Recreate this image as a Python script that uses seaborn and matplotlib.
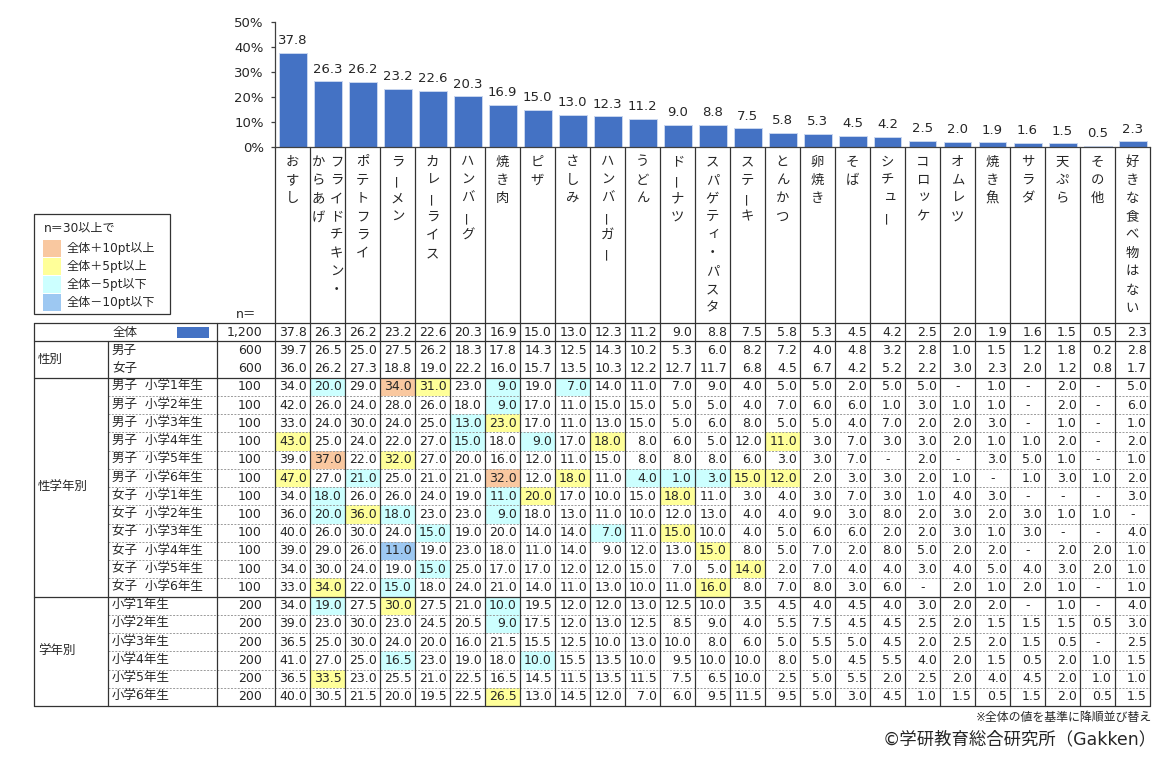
import numpy as np
import pandas as pd
import matplotlib
matplotlib.use('Agg')
import matplotlib.pyplot as plt
import seaborn as sns
from matplotlib.patches import Rectangle
from matplotlib.ticker import FuncFormatter

sns.set_theme(style='white')
plt.rcParams['font.family'] = ['DejaVu Sans', 'Noto Sans CJK JP']

# ---------------- data ----------------
header_lines = [
    ['おすし'], ['フライドチキン・', 'からあげ'], ['ポテトフライ'], ['ラーメン'],
    ['カレーライス'], ['ハンバーグ'], ['焼き肉'], ['ピザ'], ['さしみ'],
    ['ハンバーガー'], ['うどん'], ['ドーナツ'], ['スパゲティ・パスタ'],
    ['ステーキ'], ['とんかつ'], ['卵焼き'], ['そば'], ['シチュー'],
    ['コロッケ'], ['オムレツ'], ['焼き魚'], ['サラダ'], ['天ぷら'],
    ['その他'], ['好きな食べ物はない'],
]
foods = [''.join(l) for l in header_lines]

total_label = '全体'
total_n = '1,200'
total = [37.8, 26.3, 26.2, 23.2, 22.6, 20.3, 16.9, 15.0, 13.0, 12.3, 11.2, 9.0, 8.8,
         7.5, 5.8, 5.3, 4.5, 4.2, 2.5, 2.0, 1.9, 1.6, 1.5, 0.5, 2.3]

group_names = ['性別', '性学年別', '学年別']

gender_labels = ['男子', '女子']
gender_n = [600, 600]
gender_vals = [
    [39.7, 26.5, 25.0, 27.5, 26.2, 18.3, 17.8, 14.3, 12.5, 14.3, 10.2, 5.3, 6.0, 8.2, 7.2, 4.0, 4.8, 3.2, 2.8, 1.0, 1.5, 1.2, 1.8, 0.2, 2.8],
    [36.0, 26.2, 27.3, 18.8, 19.0, 22.2, 16.0, 15.7, 13.5, 10.3, 12.2, 12.7, 11.7, 6.8, 4.5, 6.7, 4.2, 5.2, 2.2, 3.0, 2.3, 2.0, 1.2, 0.8, 1.7],
]

sg_labels = ['男子  小学1年生', '男子  小学2年生', '男子  小学3年生', '男子  小学4年生',
             '男子  小学5年生', '男子  小学6年生', '女子  小学1年生', '女子  小学2年生',
             '女子  小学3年生', '女子  小学4年生', '女子  小学5年生', '女子  小学6年生']
sg_n = [100] * 12
sg_vals = [
    [34.0, 20.0, 29.0, 34.0, 31.0, 23.0, 9.0, 19.0, 7.0, 14.0, 11.0, 7.0, 9.0, 4.0, 5.0, 5.0, 2.0, 5.0, 5.0, None, 1.0, None, 2.0, None, 5.0],
    [42.0, 26.0, 24.0, 28.0, 26.0, 18.0, 9.0, 17.0, 11.0, 15.0, 15.0, 5.0, 5.0, 4.0, 7.0, 6.0, 6.0, 1.0, 3.0, 1.0, 1.0, None, 2.0, None, 6.0],
    [33.0, 24.0, 30.0, 24.0, 25.0, 13.0, 23.0, 17.0, 11.0, 13.0, 15.0, 5.0, 6.0, 8.0, 5.0, 5.0, 4.0, 7.0, 2.0, 2.0, 3.0, None, 1.0, None, 1.0],
    [43.0, 25.0, 24.0, 22.0, 27.0, 15.0, 18.0, 9.0, 17.0, 18.0, 8.0, 6.0, 5.0, 12.0, 11.0, 3.0, 7.0, 3.0, 3.0, 2.0, 1.0, 1.0, 2.0, None, 2.0],
    [39.0, 37.0, 22.0, 32.0, 27.0, 20.0, 16.0, 12.0, 11.0, 15.0, 8.0, 8.0, 8.0, 6.0, 3.0, 3.0, 7.0, None, 2.0, None, 3.0, 5.0, 1.0, None, 1.0],
    [47.0, 27.0, 21.0, 25.0, 21.0, 21.0, 32.0, 12.0, 18.0, 11.0, 4.0, 1.0, 3.0, 15.0, 12.0, 2.0, 3.0, 3.0, 2.0, 1.0, None, 1.0, 3.0, 1.0, 2.0],
    [34.0, 18.0, 26.0, 26.0, 24.0, 19.0, 11.0, 20.0, 17.0, 10.0, 15.0, 18.0, 11.0, 3.0, 4.0, 3.0, 7.0, 3.0, 1.0, 4.0, 3.0, None, None, None, 3.0],
    [36.0, 20.0, 36.0, 18.0, 23.0, 23.0, 9.0, 18.0, 13.0, 11.0, 10.0, 12.0, 13.0, 4.0, 4.0, 9.0, 3.0, 8.0, 2.0, 3.0, 2.0, 3.0, 1.0, 1.0, None],
    [40.0, 26.0, 30.0, 24.0, 15.0, 19.0, 20.0, 14.0, 14.0, 7.0, 11.0, 15.0, 10.0, 4.0, 5.0, 6.0, 6.0, 2.0, 2.0, 3.0, 1.0, 3.0, None, None, 4.0],
    [39.0, 29.0, 26.0, 11.0, 19.0, 23.0, 18.0, 11.0, 14.0, 9.0, 12.0, 13.0, 15.0, 8.0, 5.0, 7.0, 2.0, 8.0, 5.0, 2.0, 2.0, None, 2.0, 2.0, 1.0],
    [34.0, 30.0, 24.0, 19.0, 15.0, 25.0, 17.0, 17.0, 12.0, 12.0, 15.0, 7.0, 5.0, 14.0, 2.0, 7.0, 4.0, 4.0, 3.0, 4.0, 5.0, 4.0, 3.0, 2.0, 1.0],
    [33.0, 34.0, 22.0, 15.0, 18.0, 24.0, 21.0, 14.0, 11.0, 13.0, 10.0, 11.0, 16.0, 8.0, 7.0, 8.0, 3.0, 6.0, None, 2.0, 1.0, 2.0, 1.0, None, 1.0],
]

gr_labels = ['小学1年生', '小学2年生', '小学3年生', '小学4年生', '小学5年生', '小学6年生']
gr_n = [200] * 6
gr_vals = [
    [34.0, 19.0, 27.5, 30.0, 27.5, 21.0, 10.0, 19.5, 12.0, 12.0, 13.0, 12.5, 10.0, 3.5, 4.5, 4.0, 4.5, 4.0, 3.0, 2.0, 2.0, None, 1.0, None, 4.0],
    [39.0, 23.0, 30.0, 23.0, 24.5, 20.5, 9.0, 17.5, 12.0, 13.0, 12.5, 8.5, 9.0, 4.0, 5.5, 7.5, 4.5, 4.5, 2.5, 2.0, 1.5, 1.5, 1.5, 0.5, 3.0],
    [36.5, 25.0, 30.0, 24.0, 20.0, 16.0, 21.5, 15.5, 12.5, 10.0, 13.0, 10.0, 8.0, 6.0, 5.0, 5.5, 5.0, 4.5, 2.0, 2.5, 2.0, 1.5, 0.5, None, 2.5],
    [41.0, 27.0, 25.0, 16.5, 23.0, 19.0, 18.0, 10.0, 15.5, 13.5, 10.0, 9.5, 10.0, 10.0, 8.0, 5.0, 4.5, 5.5, 4.0, 2.0, 1.5, 0.5, 2.0, 1.0, 1.5],
    [36.5, 33.5, 23.0, 25.5, 21.0, 22.5, 16.5, 14.5, 11.5, 13.5, 11.5, 7.5, 6.5, 10.0, 2.5, 5.0, 5.5, 2.0, 2.5, 2.0, 4.0, 4.5, 2.0, 1.0, 1.0],
    [40.0, 30.5, 21.5, 20.0, 19.5, 22.5, 26.5, 13.0, 14.5, 12.0, 7.0, 6.0, 9.5, 11.5, 9.5, 5.0, 3.0, 4.5, 1.0, 1.5, 0.5, 1.5, 2.0, 0.5, 1.5],
]

legend_title = 'n＝30以上で'
legend_labels = ['全体＋10pt以上', '全体＋5pt以上', '全体－5pt以下', '全体－10pt以下']
note_text = '※全体の値を基準に降順並び替え'
credit_text = '©学研教育総合研究所（Gakken）'

# ---------------- style ----------------
BAR_COLOR = '#4472C4'
C_ORANGE, C_YELLOW, C_CYAN, C_BLUE = '#F9C8A0', '#FFFF99', '#CCFFFF', '#9DC8F2'
legend_colors = [C_ORANGE, C_YELLOW, C_CYAN, C_BLUE]
TXT = '#262626'
LINE = '#333333'
FS = 9.0

W, H = 1169, 757
X0, CW = 275, 35
NCOL = len(foods)
XR = X0 + CW * NCOL
TOP, RH = 323, 18.24

fig = plt.figure(figsize=(W / 100, H / 100), dpi=100)

# table / overlay axes in pixel coordinates
tab = fig.add_axes([0, 0, 1, 1])
tab.set_xlim(0, W)
tab.set_ylim(H, 0)
tab.axis('off')

# bar chart axes
bar_ax = fig.add_axes([X0 / W, (H - 147) / H, (CW * NCOL) / W, 125 / H])
df = pd.DataFrame({'food': foods, 'pct': total})
sns.barplot(data=df, x='food', y='pct', color=BAR_COLOR, saturation=1, width=0.8,
            edgecolor='#C9D6EF', linewidth=0.7, ax=bar_ax)
bar_ax.set_xlim(-0.5, NCOL - 0.5)
bar_ax.set_ylim(0, 50)
bar_ax.set_yticks(range(0, 51, 10))
bar_ax.yaxis.set_major_formatter(FuncFormatter(lambda v, p: f'{int(v)}%'))
bar_ax.set_xticks([])
bar_ax.set_xlabel('')
bar_ax.set_ylabel('')
bar_ax.patch.set_alpha(0)
for s in ['top', 'right']:
    bar_ax.spines[s].set_visible(False)
for s in ['left', 'bottom']:
    bar_ax.spines[s].set_color('#404040')
    bar_ax.spines[s].set_linewidth(0.9)
bar_ax.tick_params(axis='y', direction='out', length=3, width=0.9, color='#404040',
                   labelsize=FS + 0.5, labelcolor=TXT, pad=5, left=True)
bar_ax.bar_label(bar_ax.containers[0], labels=[f'{v:.1f}' for v in total],
                 padding=4, fontsize=FS + 0.5, color=TXT)

# ---------------- header (vertical text) ----------------
small_kana = 'ァィゥェォッャュョ'
for j, lines in enumerate(header_lines):
    cx = X0 + CW * (j + 0.5)
    nl = len(lines)
    for li, line in enumerate(lines):
        x = cx + (nl - 1) / 2 * 18 - li * 18
        for k, ch in enumerate(line):
            y = 162 + k * 18.3
            rot = 0
            dx = dy = 0
            if ch == 'ー':
                rot = 90
            if ch in small_kana:
                dx, dy = 2, -2
            tab.text(x + dx, y + dy, ch, ha='center', va='center', rotation=rot,
                     fontsize=FS + 0.6, color=TXT)

# vertical column lines
for k in range(NCOL + 1):
    tab.plot([X0 + CW * k] * 2, [147, TOP + RH * 21], color=LINE, lw=0.9)

tab.text(256, 315, 'n＝', ha='right', va='center', fontsize=FS, color=TXT)

# legend box
tab.add_patch(Rectangle((34, 214), 136, 100, fill=False, edgecolor=LINE, lw=0.9))
tab.text(44, 228, legend_title, ha='left', va='center', fontsize=FS - 0.3, color=TXT)
for i, (c, lab) in enumerate(zip(legend_colors, legend_labels)):
    y0 = 240 + i * 18
    tab.add_patch(Rectangle((43, y0), 18, 16.5, facecolor=c, edgecolor='none'))
    tab.text(67, y0 + 8.5, lab, ha='left', va='center', fontsize=FS - 0.3, color=TXT)


# ---------------- table body ----------------
def row_y(r):
    return TOP + RH * r


def cell_color(v, base):
    if v is None:
        return None
    d = round(v - base, 1)
    if d >= 10:
        return C_ORANGE
    if d >= 5:
        return C_YELLOW
    if d <= -10:
        return C_BLUE
    if d <= -5:
        return C_CYAN
    return None


def draw_values(r, vals, highlight):
    yc = row_y(r) + RH / 2
    for j, v in enumerate(vals):
        xl = X0 + CW * j
        if highlight:
            c = cell_color(v, total[j])
            if c:
                tab.add_patch(Rectangle((xl, row_y(r)), CW, RH, facecolor=c,
                                        edgecolor='none', zorder=0))
        if v is None:
            tab.text(xl + CW / 2, yc, '-', ha='center', va='center', fontsize=FS, color=TXT)
        else:
            tab.text(xl + CW - 3, yc, f'{v:.1f}', ha='right', va='center', fontsize=FS, color=TXT)


# total row
yc0 = row_y(0) + RH / 2
tab.text(113, yc0, total_label, ha='left', va='center', fontsize=FS, color=TXT)
tab.add_patch(Rectangle((177, 327), 32, 10.5, facecolor=BAR_COLOR, edgecolor='none'))
tab.text(262, yc0, total_n, ha='right', va='center', fontsize=FS, color=TXT)
draw_values(0, total, False)

groups = [
    (group_names[0], gender_labels, gender_n, gender_vals),
    (group_names[1], sg_labels, sg_n, sg_vals),
    (group_names[2], gr_labels, gr_n, gr_vals),
]
r = 1
for gname, labels, ns, vals in groups:
    r0 = r
    for lab, n, v in zip(labels, ns, vals):
        yc = row_y(r) + RH / 2
        tab.text(112, yc, lab, ha='left', va='center', fontsize=FS, color=TXT)
        tab.text(262, yc, f'{n:,}', ha='right', va='center', fontsize=FS, color=TXT)
        draw_values(r, v, True)
        if r > r0 and gname != group_names[0]:
            tab.plot([108, XR], [row_y(r)] * 2, color='#9a9a9a', lw=0.7,
                     ls=(0, (2, 1.5)), zorder=1)
        r += 1
    tab.text(38, (row_y(r0) + row_y(r)) / 2, gname, ha='left', va='center',
             fontsize=FS, color=TXT)
    tab.plot([34, XR], [row_y(r0)] * 2, color=LINE, lw=0.9)

# outer/structural lines
tab.plot([34, XR], [row_y(0)] * 2, color=LINE, lw=0.9)
tab.plot([34, XR], [row_y(21)] * 2, color=LINE, lw=0.9)
tab.plot([34, 34], [row_y(0), row_y(21)], color=LINE, lw=0.9)
tab.plot([108, 108], [row_y(1), row_y(21)], color=LINE, lw=0.9)
tab.plot([217, 217], [row_y(0), row_y(21)], color=LINE, lw=0.9)

# notes
tab.text(1152, 717, note_text, ha='right', va='center', fontsize=FS - 0.4, color=TXT)
tab.text(1157, 739, credit_text, ha='right', va='center', fontsize=12.5, color=TXT)

fig.savefig('out.png', dpi=100)
